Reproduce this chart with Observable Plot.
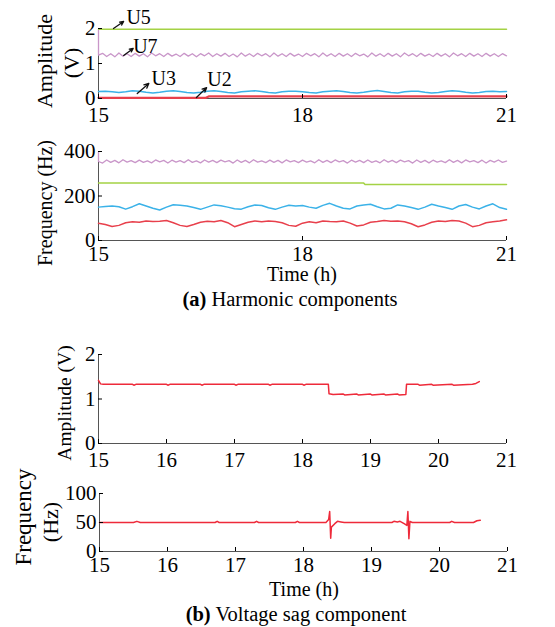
<!DOCTYPE html>
<html><head><meta charset="utf-8">
<script src="https://cdn.jsdelivr.net/npm/d3@7"></script>
<script src="https://cdn.jsdelivr.net/npm/@observablehq/plot@0.6"></script>
<style>
body{margin:0;background:#fff;}
#root{position:relative;width:555px;height:627px;font-family:"Liberation Serif","Times New Roman",serif;color:#000;overflow:hidden;}
.panel{position:absolute;left:0;}
.lbl{position:absolute;white-space:nowrap;line-height:1;font-size:19px;transform:translate(-50%,-50%);}
.rot{transform:translate(-50%,-50%) rotate(-90deg);}
</style></head>
<body><div id="root"></div>
<script>
// ---------- data ----------
const COLORS = {U2: "#e8404c", U3: "#3bb2e8", U5: "#a4d244", U7: "#c996c9", sag: "#ee2a3a"};
const xTicksA = [15, 18, 21];
const xTicksB = [15, 16, 17, 18, 19, 20, 21];
const ampTicks = [0, 1, 2];
const freqTicksA = [0, 200, 400];
const freqTicksB = [0, 50, 100];

// (a) amplitude
const u5AmpTime = [15, 21];
const u5Amp = [1.98, 1.98];
const u7Step = 0.06; // sampling step (h) of U7 series
const u7StartSpike = 1.95;
const u7Amp = [
1.24,1.29,1.20,1.28,1.19,1.30,1.21,1.28,1.20,1.29,
1.21,1.28,1.19,1.30,1.22,1.28,1.20,1.29,1.21,1.27,
1.20,1.29,1.21,1.28,1.19,1.28,1.22,1.30,1.20,1.28,
1.21,1.29,1.20,1.27,1.19,1.30,1.21,1.28,1.20,1.29,
1.22,1.28,1.19,1.30,1.21,1.28,1.20,1.29,1.21,1.27,
1.20,1.29,1.22,1.28,1.19,1.30,1.21,1.28,1.20,1.29,
1.21,1.28,1.20,1.29,1.22,1.27,1.19,1.30,1.21,1.28,
1.20,1.29,1.21,1.28,1.19,1.30,1.22,1.28,1.20,1.29,
1.21,1.27,1.20,1.29,1.21,1.28,1.19,1.30,1.22,1.28,
1.20,1.29,1.21,1.28,1.20,1.29,1.21,1.28,1.20,1.28,1.22];
const u3Step = 0.1;
const u3Amp = [
0.20,0.21,0.19,0.17,0.19,0.22,0.21,0.18,0.16,0.18,
0.21,0.22,0.20,0.17,0.16,0.18,0.21,0.22,0.20,0.17,
0.16,0.19,0.21,0.22,0.20,0.17,0.16,0.19,0.21,0.21,
0.19,0.17,0.16,0.19,0.21,0.22,0.20,0.17,0.16,0.18,
0.21,0.23,0.20,0.17,0.16,0.19,0.21,0.21,0.18,0.16,
0.17,0.20,0.22,0.21,0.18,0.16,0.17,0.20,0.21,0.19,0.20];
const u2AmpTime = [15, 16.58, 16.62, 21];
const u2Amp = [0.02, 0.02, 0.06, 0.06];

// (a) frequency
const u7FreqStart = 398;
const u7Freq = [
355,348,362,351,360,349,363,352,359,350,
361,351,358,349,362,353,360,348,361,352,
359,350,363,351,358,349,362,352,360,350,
361,353,359,348,362,351,360,349,363,352,
358,350,361,351,360,349,362,353,359,350,
361,352,358,349,363,351,360,350,362,353,
359,348,361,352,360,350,362,351,358,349,
363,352,360,350,361,353,359,348,362,351,
360,349,361,352,358,350,363,351,360,349,
362,353,359,350,361,348,360,352,362,351,357];
const u5FreqTime = [15, 18.9, 18.92, 21];
const u5Freq = [258, 258, 252, 252];
const u3Freq = [
150,153,155,152,141,152,165,155,145,137,
150,161,158,155,148,140,150,160,156,150,
143,141,152,160,157,147,140,150,158,155,
157,150,145,158,167,155,145,142,155,160,
163,152,142,145,160,155,148,140,150,163,
155,148,140,155,162,150,142,155,165,148,140];
const u2Freq = [
78,72,63,68,80,84,82,88,85,87,
90,80,68,63,72,82,86,84,90,80,
62,72,82,88,84,88,85,80,68,64,
78,84,80,88,85,84,88,78,65,70,
82,85,90,86,88,84,75,62,70,82,
88,85,90,88,78,62,68,80,84,88,93];

// (b) voltage sag
const sagAmpTime = [15.0,15.03,15.07,15.5,15.52,15.55,16.0,16.02,16.05,16.5,16.52,16.55,17.0,17.02,17.05,17.5,17.52,17.55,18.0,18.02,18.05,18.38,18.39,18.45,18.6,18.62,18.8,18.82,19.0,19.02,19.2,19.22,19.4,19.42,19.52,19.53,19.7,19.72,19.9,19.92,20.2,20.22,20.5,20.55,20.6];
const sagAmp     = [1.42,1.34,1.33,1.33,1.31,1.33,1.33,1.31,1.33,1.33,1.31,1.33,1.33,1.31,1.33,1.33,1.31,1.33,1.33,1.31,1.33,1.33,1.12,1.10,1.11,1.09,1.11,1.09,1.11,1.09,1.11,1.09,1.11,1.09,1.10,1.33,1.33,1.31,1.33,1.31,1.33,1.31,1.33,1.35,1.39];
const sagFreqTime = [15,15.5,15.55,15.6,16.7,16.73,16.76,17.28,17.31,17.34,17.88,17.91,17.94,18.33,18.37,18.385,18.40,18.41,18.46,18.5,18.55,18.6,19.3,19.33,19.38,19.42,19.48,19.52,19.535,19.55,19.565,19.6,20.15,20.18,20.22,20.5,20.55,20.6];
const sagFreq     = [50,50,52,50,50,52,50,50,52,50,50,52,50,50,55,69,23,42,48,52,51,50,50,52,51,52,48,45,69,22,52,50,50,52,50,50,53,54];

// annotations (panel a, amplitude)
const annLabels = ["U5", "U7", "U3", "U2"];
const annFromT = [15.22, 15.37, 15.57, 16.44];
const annFromV = [2.0, 1.23, 0.14, 0.03];
const annToT = [15.37, 15.51, 15.74, 16.59];
const annToV = [2.2, 1.43, 0.43, 0.31];
const annTextT = [15.41, 15.51, 15.78, 16.6];
const annTextV = [2.31, 1.49, 0.57, 0.54];

// ---------- helpers ----------
const grid = (vals, step) => vals.map((v, i) => ({t: 15 + i * step, v}));
const pairs = (ts, vs) => ts.map((t, i) => ({t, v: vs[i]}));
const root = document.getElementById("root");

function panel({top, height, mt, mb, ml, mr, yDomain, yTicks, xTicks, pad, marks}) {
  const svg = Plot.plot({
    width: 555, height, marginTop: mt, marginBottom: mb, marginLeft: ml, marginRight: mr,
    x: {domain: [15, 21]}, y: {domain: yDomain},
    style: {fontFamily: "'Liberation Serif', 'Times New Roman', serif", fontSize: "21px", background: "transparent", overflow: "visible", color: "#000"},
    marks: [
      Plot.ruleY([yDomain[0]], {stroke: "#555", strokeWidth: 1}),
      Plot.ruleX([15], {stroke: "#555", strokeWidth: 1}),
      ...marks,
      Plot.axisX({ticks: xTicks, tickSize: -4, tickPadding: pad, label: null, tickFormat: d => String(d)}),
      Plot.axisY({ticks: yTicks, tickSize: -4, tickPadding: 7, label: null, tickFormat: d => String(d)})
    ]
  });
  svg.classList.add("panel");
  svg.style.top = top + "px";
  root.appendChild(svg);
}
function label(html, x, y, rot, size) {
  const d = document.createElement("div");
  d.className = "lbl" + (rot ? " rot" : "");
  d.style.left = x + "px"; d.style.top = y + "px";
  if (size) d.style.fontSize = size + "px";
  d.innerHTML = html;
  root.appendChild(d);
}
const line = (data, color, w = 1.5) => Plot.line(data, {x: "t", y: "v", stroke: color, strokeWidth: w});

// ---------- panel a: amplitude ----------
const ann = annLabels.map((s, i) => ({s, x1: annFromT[i], y1: annFromV[i], x2: annToT[i], y2: annToV[i], tx: annTextT[i], ty: annTextV[i]}));
panel({
  top: 0, height: 130, mt: 28, mb: 32, ml: 98, mr: 49, yDomain: [0, 2], yTicks: ampTicks, xTicks: xTicksA, pad: 13,
  marks: [
    line(pairs(u5AmpTime, u5Amp), COLORS.U5),
    line([{t: 15, v: u7StartSpike}, ...grid(u7Amp, u7Step)], COLORS.U7, 1.3),
    line(grid(u3Amp, u3Step), COLORS.U3),
    line(pairs(u2AmpTime, u2Amp), COLORS.U2, 2.2),
    Plot.arrow(ann, {x1: "x1", y1: "y1", x2: "x2", y2: "y2", stroke: "#111", strokeWidth: 1.3, headLength: 6, headAngle: 50}),
    Plot.text(ann, {x: "tx", y: "ty", text: "s", textAnchor: "start", fontSize: 20, fill: "#000"})
  ]
});
label("Amplitude", 45, 61, true, 22);
label("(V)", 72, 63, true, 22);

// ---------- panel a: frequency ----------
panel({
  top: 130, height: 130, mt: 21, mb: 20, ml: 98, mr: 49, yDomain: [0, 400], yTicks: freqTicksA, xTicks: xTicksA, pad: 10,
  marks: [
    line([{t: 15, v: u7FreqStart}, ...grid(u7Freq, u7Step)], COLORS.U7, 1.3),
    line(pairs(u5FreqTime, u5Freq), COLORS.U5),
    line(grid(u3Freq, u3Step), COLORS.U3),
    line(grid(u2Freq, u3Step), COLORS.U2)
  ]
});
label("Frequency (Hz)", 45, 203, true, 20);
label("Time (h)", 302, 274, false, 20);
label("<b>(a)</b> Harmonic components", 290, 299, false, 20.5);

// ---------- panel b: amplitude ----------
panel({
  top: 330, height: 140, mt: 24, mb: 27, ml: 98, mr: 49, yDomain: [0, 2], yTicks: ampTicks, xTicks: xTicksB, pad: 13,
  marks: [line(pairs(sagAmpTime, sagAmp), COLORS.sag)]
});
label("Amplitude (V)", 65, 403, true, 19.5);

// ---------- panel b: frequency ----------
panel({
  top: 470, height: 100, mt: 23, mb: 19, ml: 99, mr: 48, yDomain: [0, 100], yTicks: freqTicksB, xTicks: xTicksB, pad: 10,
  marks: [line(pairs(sagFreqTime, sagFreq), COLORS.sag)]
});
label("Frequency", 23, 517, true, 23);
label("(Hz)", 51, 522, true, 22);
label("Time (h)", 304, 589, false, 20);
label("<b>(b)</b> Voltage sag component", 296, 614, false, 20.5);
</script></body></html>
